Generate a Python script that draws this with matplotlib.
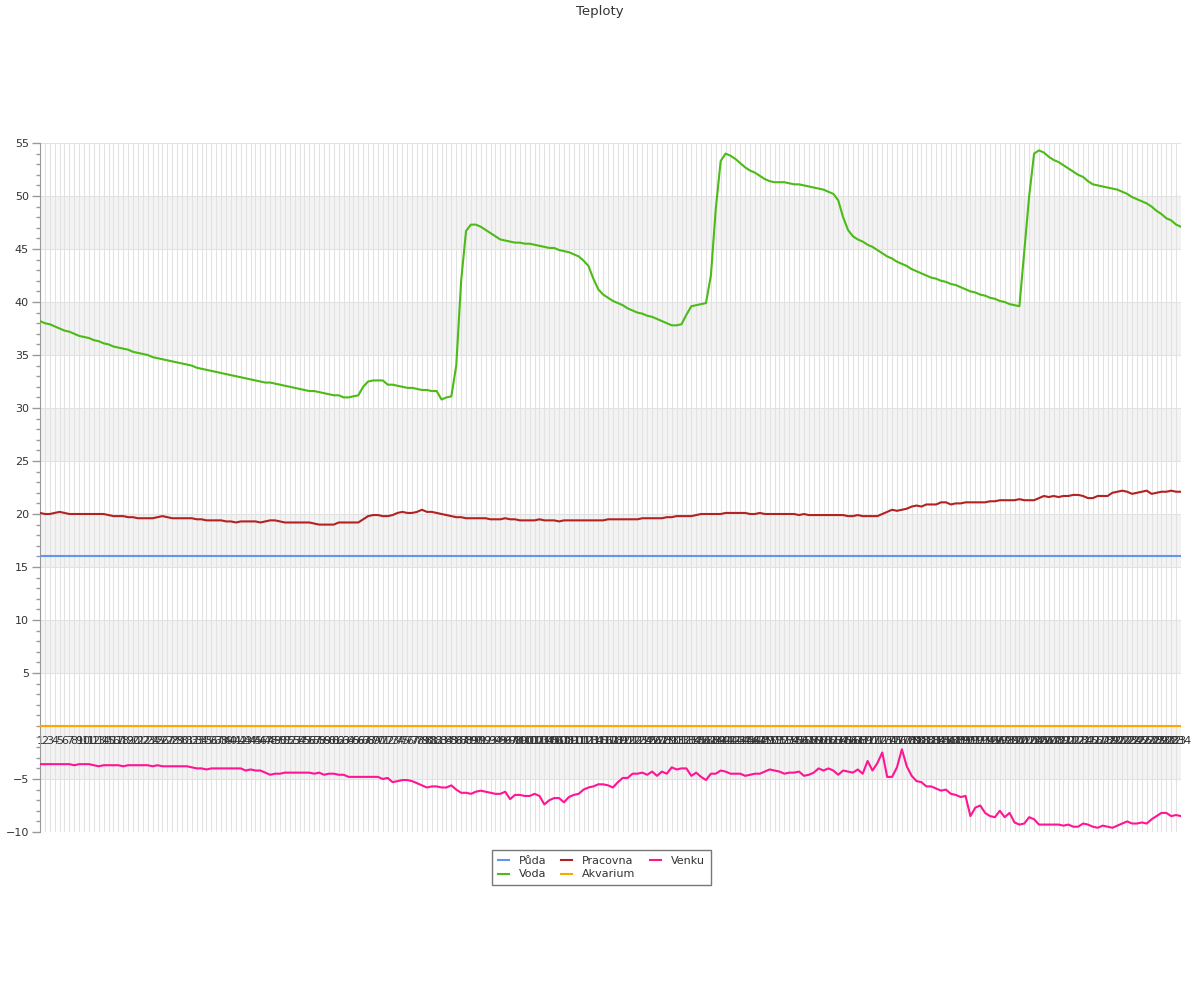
#!/usr/bin/python

### Teploty - line chart of temperatures, 234 readings per sensor ###

### packages/modules ###
import matplotlib
matplotlib.use('Agg')
import matplotlib.pyplot as plt
from matplotlib.ticker import MultipleLocator

### data ###
labels = [str(i) for i in range(1, 235)]

puda = [16.0] * 234
akvarium = [0.0] * 234

voda = [
	38.2, 38.0, 37.9, 37.7, 37.5, 37.3, 37.2, 37.0, 36.8, 36.7,
	36.6, 36.4, 36.3, 36.1, 36.0, 35.8, 35.7, 35.6, 35.5, 35.3,
	35.2, 35.1, 35.0, 34.8, 34.7, 34.6, 34.5, 34.4, 34.3, 34.2,
	34.1, 34.0, 33.8, 33.7, 33.6, 33.5, 33.4, 33.3, 33.2, 33.1,
	33.0, 32.9, 32.8, 32.7, 32.6, 32.5, 32.4, 32.4, 32.3, 32.2,
	32.1, 32.0, 31.9, 31.8, 31.7, 31.6, 31.6, 31.5, 31.4, 31.3,
	31.2, 31.2, 31.0, 31.0, 31.1, 31.2, 32.0, 32.5, 32.6, 32.6,
	32.6, 32.2, 32.2, 32.1, 32.0, 31.9, 31.9, 31.8, 31.7, 31.7,
	31.6, 31.6, 30.8, 31.0, 31.1, 34.0, 42.0, 46.7, 47.3, 47.3,
	47.1, 46.8, 46.5, 46.2, 45.9, 45.8, 45.7, 45.6, 45.6, 45.5,
	45.5, 45.4, 45.3, 45.2, 45.1, 45.1, 44.9, 44.8, 44.7, 44.5,
	44.3, 43.9, 43.4, 42.2, 41.2, 40.7, 40.4, 40.1, 39.9, 39.7,
	39.4, 39.2, 39.0, 38.9, 38.7, 38.6, 38.4, 38.2, 38.0, 37.8,
	37.8, 37.9, 38.8, 39.6, 39.7, 39.8, 39.9, 42.5, 48.8, 53.3,
	54.0, 53.8, 53.5, 53.1, 52.7, 52.4, 52.2, 51.9, 51.6, 51.4,
	51.3, 51.3, 51.3, 51.2, 51.1, 51.1, 51.0, 50.9, 50.8, 50.7,
	50.6, 50.4, 50.2, 49.6, 48.0, 46.8, 46.2, 45.9, 45.7, 45.4,
	45.2, 44.9, 44.6, 44.3, 44.1, 43.8, 43.6, 43.4, 43.1, 42.9,
	42.7, 42.5, 42.3, 42.2, 42.0, 41.9, 41.7, 41.6, 41.4, 41.2,
	41.0, 40.9, 40.7, 40.6, 40.4, 40.3, 40.1, 40.0, 39.8, 39.7,
	39.6, 44.8, 50.0, 54.0, 54.3, 54.1, 53.7, 53.4, 53.2, 52.9,
	52.6, 52.3, 52.0, 51.8, 51.4, 51.1, 51.0, 50.9, 50.8, 50.7,
	50.6, 50.4, 50.2, 49.9, 49.7, 49.5, 49.3, 49.0, 48.6, 48.3,
	47.9, 47.7, 47.3, 47.1]

pracovna = [
	20.1, 20.0, 20.0, 20.1, 20.2, 20.1, 20.0, 20.0, 20.0, 20.0,
	20.0, 20.0, 20.0, 20.0, 19.9, 19.8, 19.8, 19.8, 19.7, 19.7,
	19.6, 19.6, 19.6, 19.6, 19.7, 19.8, 19.7, 19.6, 19.6, 19.6,
	19.6, 19.6, 19.5, 19.5, 19.4, 19.4, 19.4, 19.4, 19.3, 19.3,
	19.2, 19.3, 19.3, 19.3, 19.3, 19.2, 19.3, 19.4, 19.4, 19.3,
	19.2, 19.2, 19.2, 19.2, 19.2, 19.2, 19.1, 19.0, 19.0, 19.0,
	19.0, 19.2, 19.2, 19.2, 19.2, 19.2, 19.5, 19.8, 19.9, 19.9,
	19.8, 19.8, 19.9, 20.1, 20.2, 20.1, 20.1, 20.2, 20.4, 20.2,
	20.2, 20.1, 20.0, 19.9, 19.8, 19.7, 19.7, 19.6, 19.6, 19.6,
	19.6, 19.6, 19.5, 19.5, 19.5, 19.6, 19.5, 19.5, 19.4, 19.4,
	19.4, 19.4, 19.5, 19.4, 19.4, 19.4, 19.3, 19.4, 19.4, 19.4,
	19.4, 19.4, 19.4, 19.4, 19.4, 19.4, 19.5, 19.5, 19.5, 19.5,
	19.5, 19.5, 19.5, 19.6, 19.6, 19.6, 19.6, 19.6, 19.7, 19.7,
	19.8, 19.8, 19.8, 19.8, 19.9, 20.0, 20.0, 20.0, 20.0, 20.0,
	20.1, 20.1, 20.1, 20.1, 20.1, 20.0, 20.0, 20.1, 20.0, 20.0,
	20.0, 20.0, 20.0, 20.0, 20.0, 19.9, 20.0, 19.9, 19.9, 19.9,
	19.9, 19.9, 19.9, 19.9, 19.9, 19.8, 19.8, 19.9, 19.8, 19.8,
	19.8, 19.8, 20.0, 20.2, 20.4, 20.3, 20.4, 20.5, 20.7, 20.8,
	20.7, 20.9, 20.9, 20.9, 21.1, 21.1, 20.9, 21.0, 21.0, 21.1,
	21.1, 21.1, 21.1, 21.1, 21.2, 21.2, 21.3, 21.3, 21.3, 21.3,
	21.4, 21.3, 21.3, 21.3, 21.5, 21.7, 21.6, 21.7, 21.6, 21.7,
	21.7, 21.8, 21.8, 21.7, 21.5, 21.5, 21.7, 21.7, 21.7, 22.0,
	22.1, 22.2, 22.1, 21.9, 22.0, 22.1, 22.2, 21.9, 22.0, 22.1,
	22.1, 22.2, 22.1, 22.1]

venku = [
	-3.6, -3.6, -3.6, -3.6, -3.6, -3.6, -3.6, -3.7, -3.6, -3.6,
	-3.6, -3.7, -3.8, -3.7, -3.7, -3.7, -3.7, -3.8, -3.7, -3.7,
	-3.7, -3.7, -3.7, -3.8, -3.7, -3.8, -3.8, -3.8, -3.8, -3.8,
	-3.8, -3.9, -4.0, -4.0, -4.1, -4.0, -4.0, -4.0, -4.0, -4.0,
	-4.0, -4.0, -4.2, -4.1, -4.2, -4.2, -4.4, -4.6, -4.5, -4.5,
	-4.4, -4.4, -4.4, -4.4, -4.4, -4.4, -4.5, -4.4, -4.6, -4.5,
	-4.5, -4.6, -4.6, -4.8, -4.8, -4.8, -4.8, -4.8, -4.8, -4.8,
	-5.0, -4.9, -5.3, -5.2, -5.1, -5.1, -5.2, -5.4, -5.6, -5.8,
	-5.7, -5.7, -5.8, -5.8, -5.6, -6.0, -6.3, -6.3, -6.4, -6.2,
	-6.1, -6.2, -6.3, -6.4, -6.4, -6.2, -6.9, -6.5, -6.5, -6.6,
	-6.6, -6.4, -6.6, -7.4, -7.0, -6.8, -6.8, -7.2, -6.7, -6.5,
	-6.4, -6.0, -5.8, -5.7, -5.5, -5.5, -5.6, -5.8, -5.3, -4.9,
	-4.9, -4.5, -4.5, -4.4, -4.6, -4.3, -4.7, -4.3, -4.5, -3.9,
	-4.1, -4.0, -4.0, -4.7, -4.4, -4.8, -5.1, -4.5, -4.5, -4.2,
	-4.3, -4.5, -4.5, -4.5, -4.7, -4.6, -4.5, -4.5, -4.3, -4.1,
	-4.2, -4.3, -4.5, -4.4, -4.4, -4.3, -4.7, -4.6, -4.4, -4.0,
	-4.2, -4.0, -4.2, -4.6, -4.2, -4.3, -4.4, -4.1, -4.5, -3.3,
	-4.2, -3.5, -2.5, -4.8, -4.8, -3.9, -2.2, -3.8, -4.7, -5.2,
	-5.3, -5.7, -5.7, -5.9, -6.1, -6.0, -6.4, -6.5, -6.7, -6.6,
	-8.5, -7.7, -7.5, -8.2, -8.5, -8.6, -8.0, -8.6, -8.2, -9.1,
	-9.3, -9.2, -8.6, -8.8, -9.3, -9.3, -9.3, -9.3, -9.3, -9.4,
	-9.3, -9.5, -9.5, -9.2, -9.3, -9.5, -9.6, -9.4, -9.5, -9.6,
	-9.4, -9.2, -9.0, -9.2, -9.2, -9.1, -9.2, -8.8, -8.5, -8.2,
	-8.2, -8.5, -8.4, -8.5]

series = [('Půda', puda, '#6495ed'),
	('Voda', voda, '#4cbb17'),
	('Pracovna', pracovna, '#b22222'),
	('Akvarium', akvarium, '#ffa500'),
	('Venku', venku, '#ff1493')]

### plotting parameters ###
fs = 8
txtcol = '#333333'
gridcol = '#e2e2e2'
bandcol = '#f3f3f3'

fig = plt.figure(figsize=(12, 10), dpi=100)
ax = fig.add_axes([40/1200., 1-832/1000., 1141/1200., 689/1000.])

x = list(range(len(labels)))

# alternating bands and grid
for lo in range(-5, 55, 10):
	ax.axhspan(lo, lo+5, color=bandcol, zorder=0, lw=0)
for v in range(-10, 60, 5):
	ax.axhline(v, color=gridcol, lw=0.75, zorder=1)
for xi in x:
	ax.axvline(xi, color=gridcol, lw=0.75, zorder=1)

# lines
for name, vals, col in series:
	ax.plot(x, vals, color=col, lw=1.5, label=name, zorder=3)

ax.set_xlim(0, len(labels)-1)
ax.set_ylim(-10, 55)

# y axis
ax.set_yticks([v for v in range(-10, 60, 5) if v != 0])
ax.yaxis.set_minor_locator(MultipleLocator(1))
ax.tick_params(axis='y', which='major', length=6, width=1, color='#999999', labelsize=fs, labelcolor=txtcol, pad=2)
ax.tick_params(axis='y', which='minor', length=3, width=1, color='#999999')
ax.spines['left'].set_color('#999999')
ax.spines['right'].set_visible(False)
ax.spines['top'].set_visible(False)

# x axis labels sit on the zero line
ax.spines['bottom'].set_position(('data', 0))
ax.spines['bottom'].set_visible(False)
ax.set_xticks(x)
ax.set_xticklabels(labels)
ax.tick_params(axis='x', length=0, labelsize=fs, labelcolor=txtcol, pad=7)

fig.text(0.5, 0.989, 'Teploty', ha='center', va='center', fontsize=9.5, color=txtcol)

leg = ax.legend(loc='upper center', bbox_to_anchor=(0.492, -0.018), ncol=3, fontsize=8,
	frameon=True, fancybox=False, edgecolor='#777777', framealpha=1,
	handlelength=1.0, handletextpad=0.9, columnspacing=1.3, borderpad=0.5, labelspacing=0.35)
leg.get_frame().set_linewidth(1)
for t in leg.get_texts():
	t.set_color(txtcol)

plt.savefig('out.png', dpi=100)
plt.close()
